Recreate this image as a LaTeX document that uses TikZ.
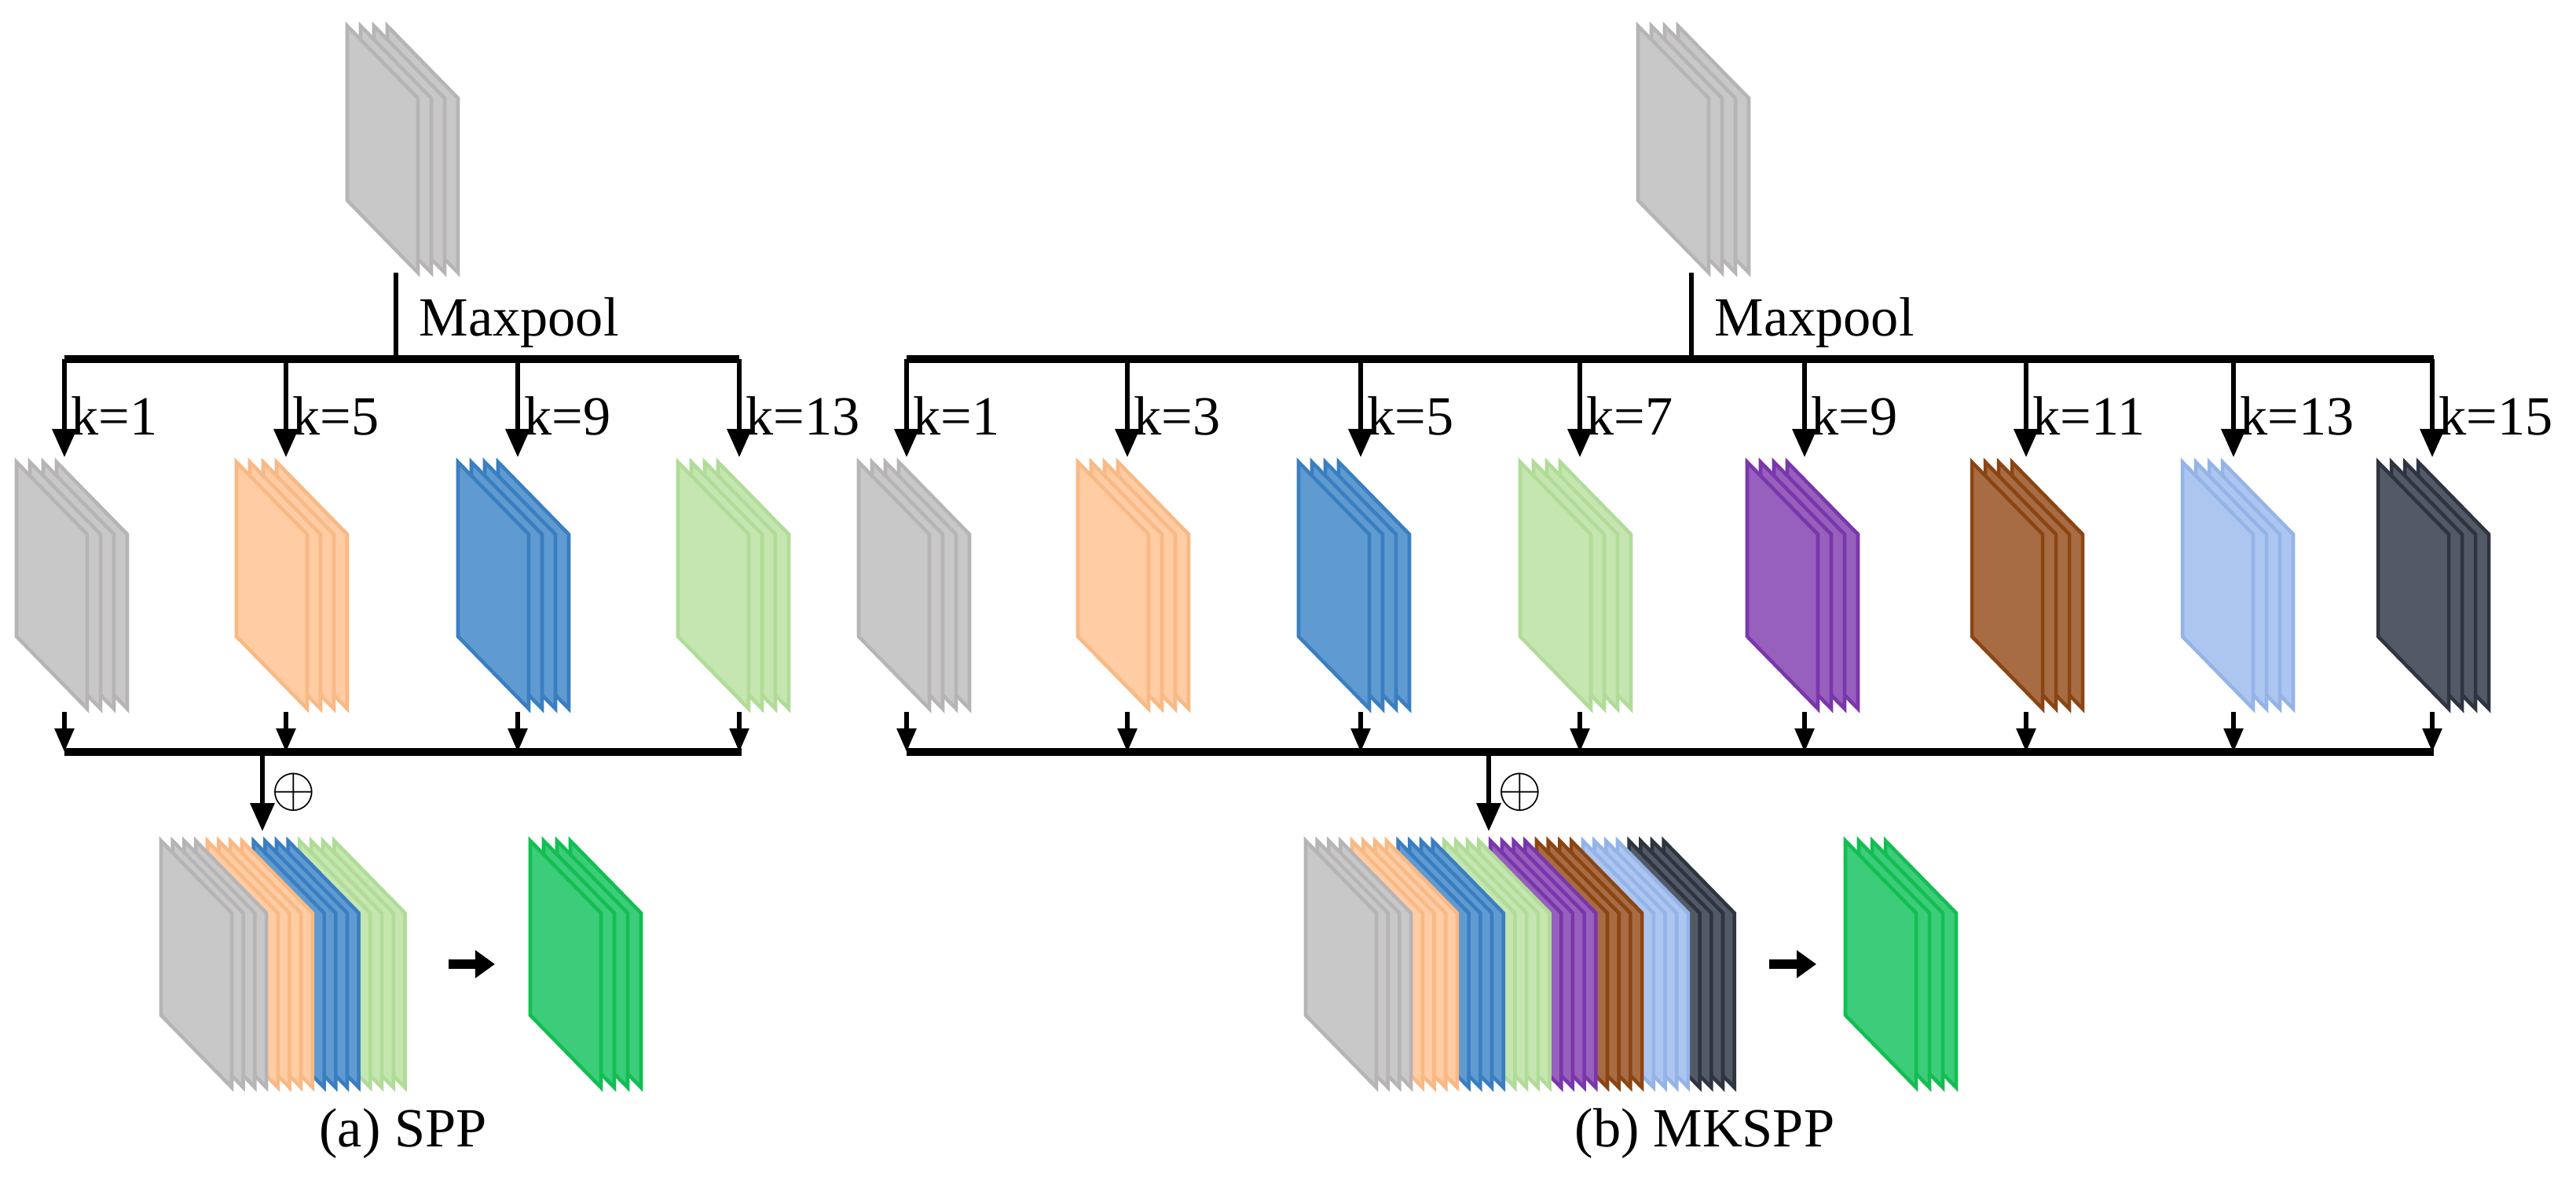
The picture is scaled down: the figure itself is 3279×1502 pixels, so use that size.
\documentclass[tikz,border=0pt]{standalone}
\usepackage{fontspec}
\setmainfont{Liberation Serif}
\usetikzlibrary{arrows.meta}
\definecolor{f0}{HTML}{C9C8C8}\definecolor{e0}{HTML}{B6B4B4}
\definecolor{f1}{HTML}{FFCCA3}\definecolor{e1}{HTML}{F9B984}
\definecolor{f2}{HTML}{5F9BD0}\definecolor{e2}{HTML}{3A7EC2}
\definecolor{f3}{HTML}{C5E6B0}\definecolor{e3}{HTML}{B0DC98}
\definecolor{f4}{HTML}{9660BC}\definecolor{e4}{HTML}{7A36AC}
\definecolor{f5}{HTML}{A86C44}\definecolor{e5}{HTML}{8B4513}
\definecolor{f6}{HTML}{ADC6F0}\definecolor{e6}{HTML}{94B4E8}
\definecolor{f7}{HTML}{535A66}\definecolor{e7}{HTML}{2E3540}
\definecolor{f8}{HTML}{3DCC7A}\definecolor{e8}{HTML}{12BE52}
\newcommand\sheet[3]{\filldraw[fill=f#3,draw=e#3,line width=1.3pt,line join=miter] (#1,#2) -- ++(90,92) -- ++(0,222) -- ++(-90,-92) -- cycle;}
\newcommand\fmap[3]{\foreach \i in {3,2,1,0}{\pgfmathsetmacro\xx{#1+\i*17}\sheet{\xx}{#2}{#3}}}
\newcommand\concat[3]{\foreach \i in {#3,...,0}{\pgfmathsetmacro\xx{#1+\i*14.7}\pgfmathtruncatemacro\g{int(\i/4)}\sheet{\xx}{#2}{\g}}}
\tikzset{
 bus/.style={line width=2.6pt},
 line/.style={line width=1.8pt},
 big/.style={line width=1.8pt,-{Triangle[width=0.3cm,length=0.36cm]}},
 small/.style={line width=1.6pt,-{Triangle[width=0.24cm,length=0.3cm]}},
 fat/.style={line width=0.12cm,-{Triangle[width=0.34cm,length=0.25cm]}},
 lbl/.style={font=\fontsize{20}{24}\selectfont,inner sep=0pt,anchor=base west}
}
\begin{document}
\begin{tikzpicture}[x=0.01cm,y=-0.01cm]
\useasboundingbox (0,0) rectangle (3279,1502);
% ---------- SPP ----------
\fmap{442}{33}{0}
\coordinate (sa) at (504,347); \coordinate (sb) at (504,457);
\draw[line] (sa) -- (sb);
\node[lbl] (smp) at (533,427) {Maxpool};
\coordinate (sl) at (82,457); \coordinate (sr) at (941,457);
\draw[bus] (sl) -- (sr);
\foreach \x/\k/\l/\c in {82/1/21/0,364/5/301/1,659/9/583/2,941/13/863/3}{
  \coordinate (t\x) at (\x,457); \coordinate (h\x) at (\x,582);
  \draw[big] (t\x) -- (h\x);
  \node[lbl] (k\x) at (\x+8,553) {k=\k};
  \fmap{\l}{588}{\c}
  \coordinate (u\x) at (\x,906); \coordinate (v\x) at (\x,957);
  \draw[small] (u\x) -- (v\x);
}
\coordinate (bl) at (82,957); \coordinate (br) at (944,957);
\draw[bus] (bl) -- (br);
\coordinate (ca) at (334,957); \coordinate (cb) at (334,1058);
\draw[big] (ca) -- (cb);
\node[font=\fontsize{20}{24}\selectfont,inner sep=0pt] (op1) at (374,1008) {$\oplus$};
\concat{205}{1070}{15}
\coordinate (ra) at (571,1227); \coordinate (rb) at (630,1227);
\draw[fat] (ra) -- (rb);
\fmap{675}{1070}{8}
\node[font=\fontsize{20}{24}\selectfont,inner sep=0pt] (cap1) at (513,1443) {(a) SPP};
% ---------- MKSPP ----------
\fmap{2085}{33}{0}
\coordinate (ma) at (2153,347); \coordinate (mb) at (2153,457);
\draw[line] (ma) -- (mb);
\node[lbl] (mmp) at (2182,427) {Maxpool};
\coordinate (ml) at (1154,457); \coordinate (mr) at (3098,457);
\draw[bus] (ml) -- (mr);
\foreach \x/\k/\l/\c in {1154/1/1093/0,1435/3/1372/1,1732/5/1653/2,2011/7/1935/3,2297/9/2224/4,2579/11/2510/5,2843/13/2778/6,3096/15/3027/7}{
  \coordinate (t\x) at (\x,457); \coordinate (h\x) at (\x,582);
  \draw[big] (t\x) -- (h\x);
  \node[lbl] (k\x) at (\x+8,553) {k=\k};
  \fmap{\l}{588}{\c}
  \coordinate (u\x) at (\x,906); \coordinate (v\x) at (\x,957);
  \draw[small] (u\x) -- (v\x);
}
\coordinate (mbl) at (1154,957); \coordinate (mbr) at (3098,957);
\draw[bus] (mbl) -- (mbr);
\coordinate (mca) at (1895,957); \coordinate (mcb) at (1895,1058);
\draw[big] (mca) -- (mcb);
\node[font=\fontsize{20}{24}\selectfont,inner sep=0pt] (op2) at (1935,1008) {$\oplus$};
\concat{1662}{1070}{31}
\coordinate (mra) at (2252,1227); \coordinate (mrb) at (2312,1227);
\draw[fat] (mra) -- (mrb);
\fmap{2349}{1070}{8}
\node[font=\fontsize{20}{24}\selectfont,inner sep=0pt] (cap2) at (2170,1443) {(b) MKSPP};
\end{tikzpicture}
\end{document}
